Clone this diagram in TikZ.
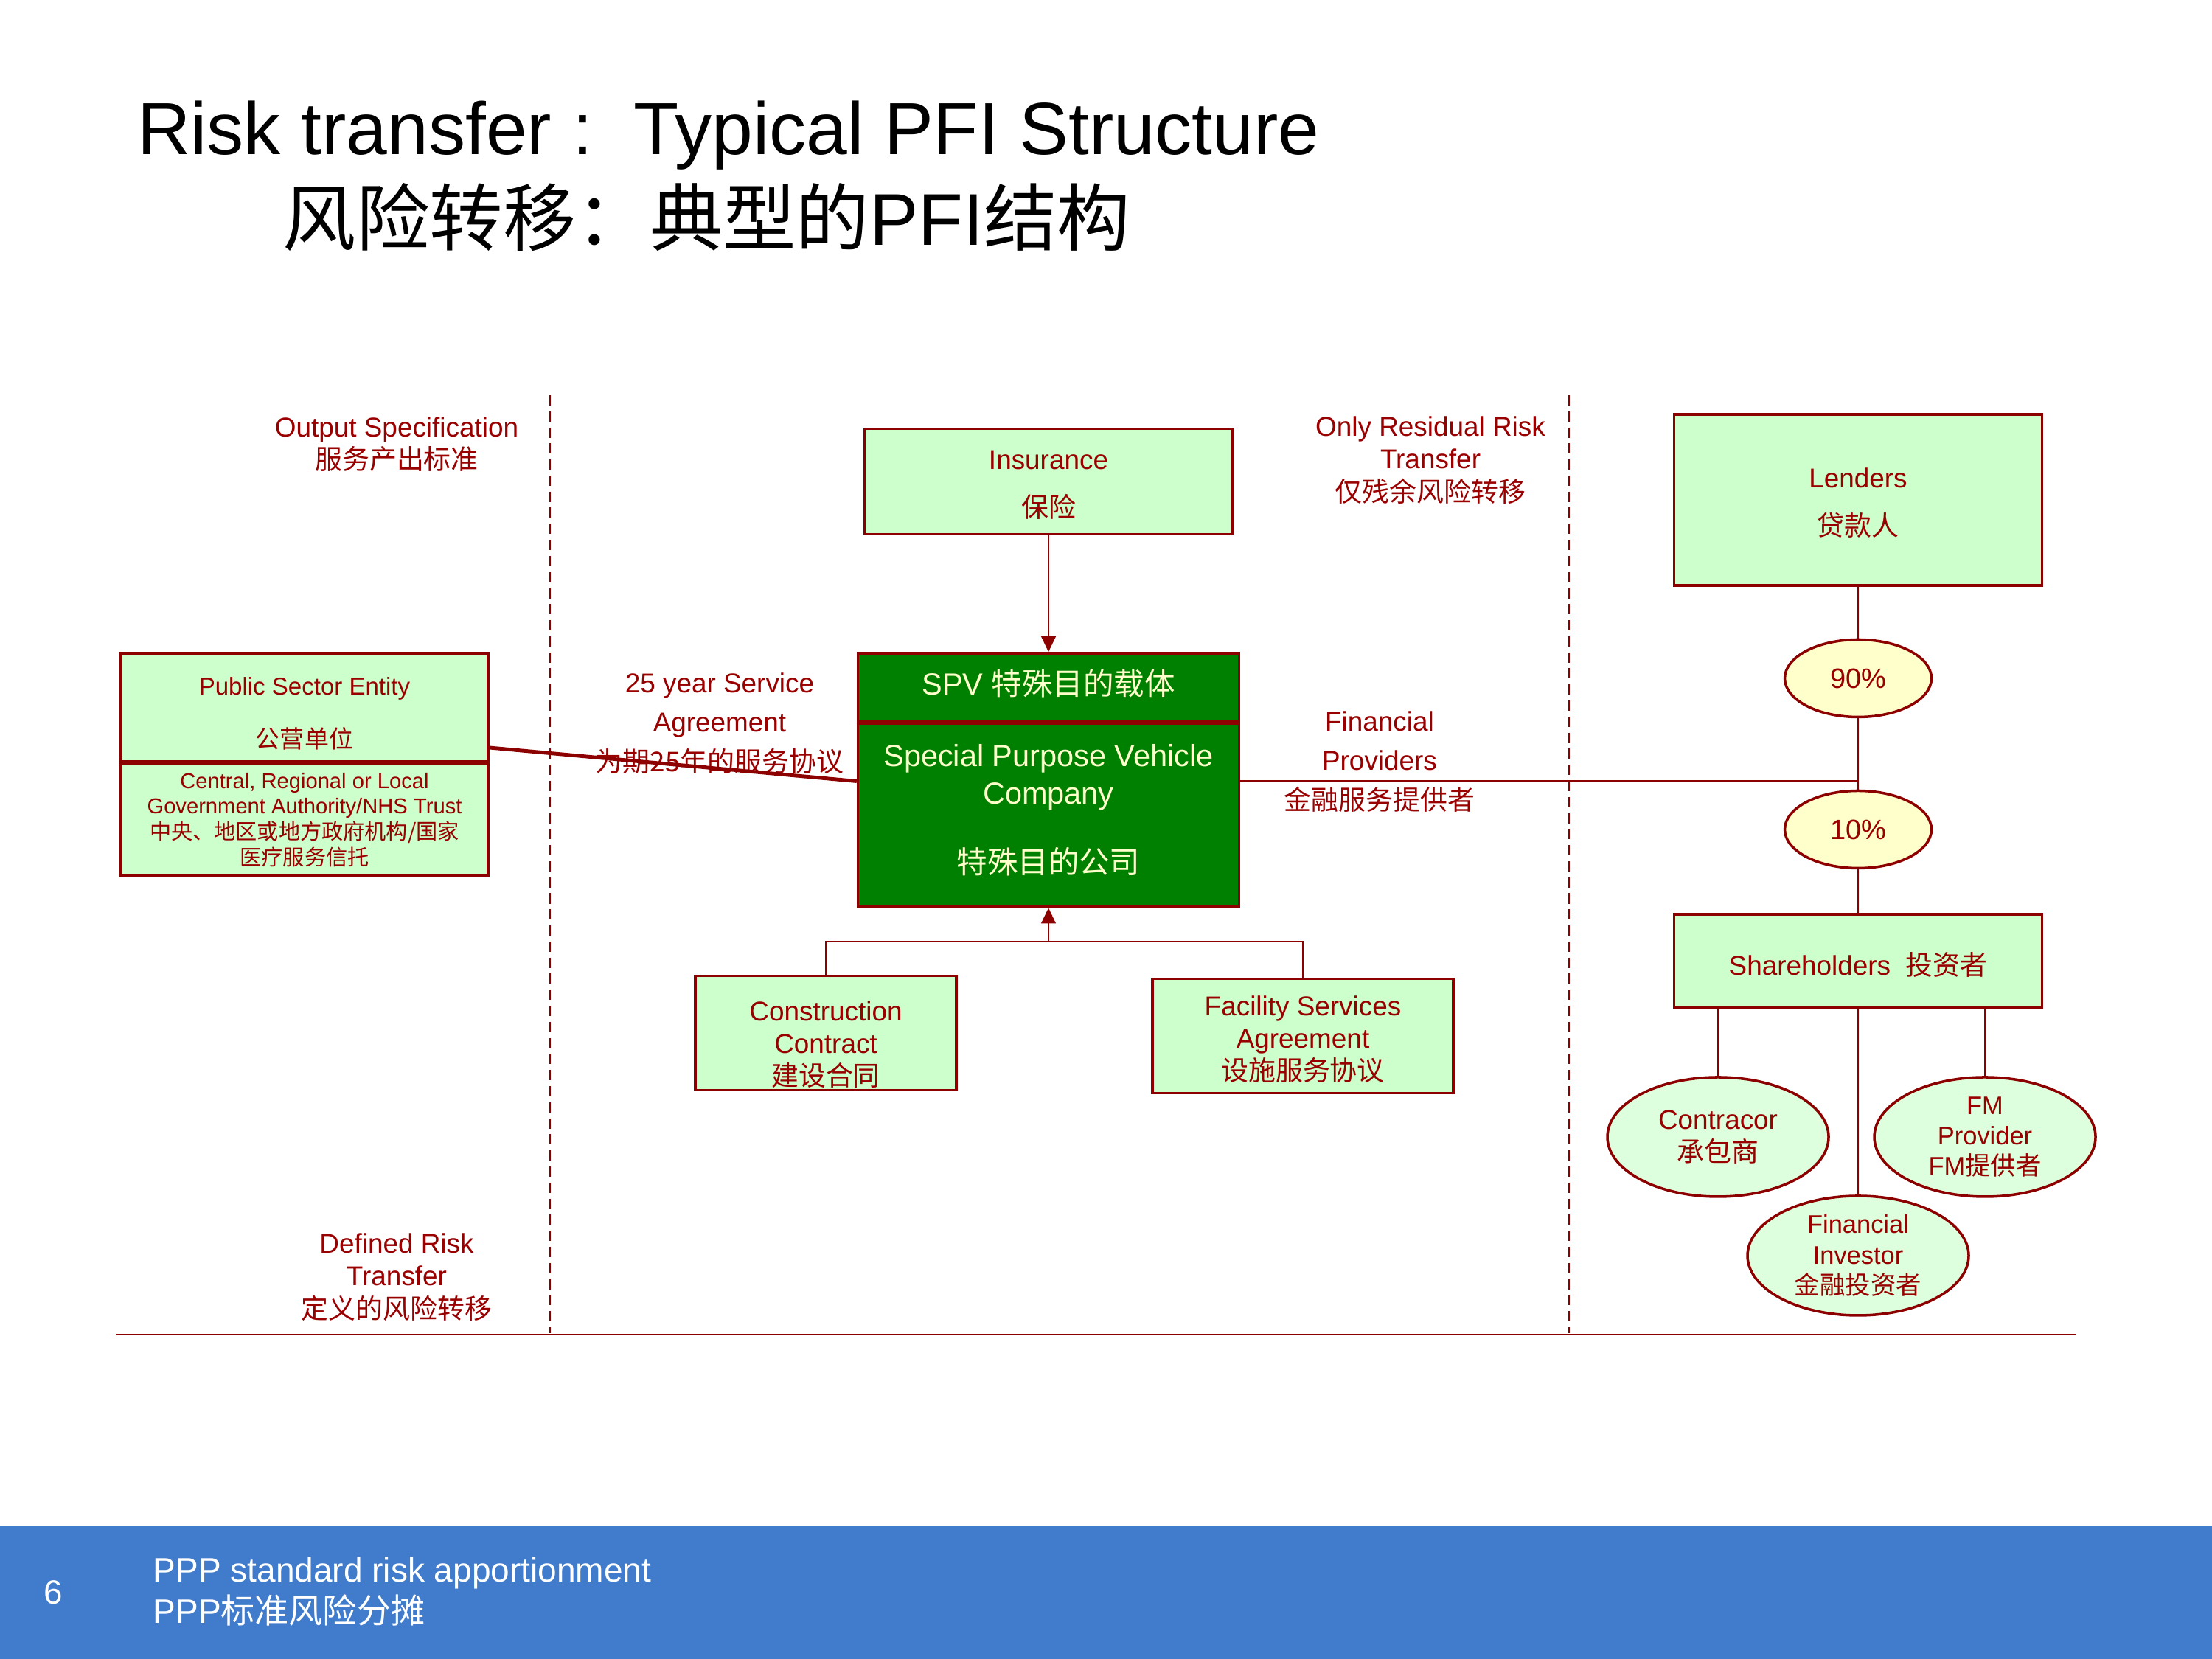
\documentclass[tikz,border=0pt]{standalone}
\usepackage{fontspec}
\setmainfont{Liberation Sans}
\newfontfamily\cjk{Noto Sans CJK SC}
\usepackage{xcolor}
\usetikzlibrary{positioning,arrows.meta,shapes.geometric,calc}
\definecolor{pfired}{RGB}{153,0,0}
\definecolor{pfiline}{RGB}{140,0,0}
\definecolor{pfigreen}{RGB}{204,255,204}
\definecolor{pfipale}{RGB}{221,255,221}
\definecolor{pfiyellow}{RGB}{255,255,204}
\definecolor{spvgreen}{RGB}{0,128,0}
\definecolor{footblue}{RGB}{64,124,203}
% moves the text inside a box without changing the box
\newcommand{\dropby}[2]{\raisebox{-#1}[\height][\depth]{#2}}

\begin{document}
\begin{tikzpicture}[
    greenbox/.style={draw=pfiline, line width=1pt, fill=pfigreen, rectangle, text=pfired, inner sep=0pt, font=\fontsize{10.5}{13}\selectfont},
    notetext/.style={text=pfired, align=center, inner sep=0pt, font=\fontsize{10.5}{12.6}\selectfont},
    pctoval/.style={draw=pfiline, line width=1pt, fill=pfiyellow, ellipse, minimum width=1.99cm, minimum height=1.05cm, inner sep=0pt, text=pfired, font=\fontsize{10.8}{13}\selectfont},
    partyoval/.style={draw=pfiline, line width=1pt, fill=pfipale, ellipse, minimum width=3cm, minimum height=1.62cm, inner sep=0pt, text=pfired, align=center, font=\fontsize{9.8}{11.7}\selectfont},
    riskline/.style={draw=pfiline, line width=0.8pt, dash pattern=on 4pt off 2.2pt},
    link/.style={draw=pfiline, line width=0.8pt},
    arrowlink/.style={link, -{Triangle[length=6pt,width=5.5pt]}}
]
    \useasboundingbox (0,0) rectangle (30,22.5);

    % Title
    \node[anchor=base west, inner sep=0pt, font=\fontsize{28.5}{34}\selectfont] (title) at (1.856,20.40) {Risk transfer :\ \ Typical PFI Structure};
    \node[anchor=base west, inner sep=0pt, font=\fontsize{28.3}{34}\selectfont] (titlecn) at (3.83,19.17) {{\cjk 风险转移：典型的}PFI{\cjk 结构}};

    % Footer
    \fill[footblue] (0,0) rectangle (30,1.80);
    \node[text=white, font=\fontsize{13}{15.8}\selectfont] (pagenum) at (0.727,0.90) {6};
    \node[text=white, anchor=west, align=left, inner sep=0pt, font=\fontsize{13.1}{15.8}\selectfont] (foottext) at (2.07,0.91) {PPP standard risk apportionment\\PPP{\cjk 标准风险分摊}};

    % Risk zones
    \draw[riskline] (7.46,17.14) -- (7.46,4.42);
    \draw[riskline] (21.28,17.14) -- (21.28,4.42);
    \draw[link] (1.57,4.40) -- (28.16,4.40);

    % Notes
    \node[notetext] (outspec) at (5.38,16.47) {Output Specification\\{\cjk 服务产出标准}};
    \node[notetext] (residual) at (19.40,16.26) {Only Residual Risk\\Transfer\\{\cjk 仅残余风险转移}};
    \node[notetext] (definedrisk) at (5.38,5.18) {Defined Risk\\Transfer\\{\cjk 定义的风险转移}};
    \node[notetext, font=\fontsize{10.5}{15.2}\selectfont] (service) at (9.76,12.69) {25 year Service\\Agreement\\{\cjk 为期25年的服务协议}};
    \node[notetext, font=\fontsize{10.5}{15.2}\selectfont] (finprov) at (18.71,12.17) {Financial\\Providers\\{\cjk 金融服务提供者}};

    % Insurance
    \node[greenbox, minimum width=4.99cm, minimum height=1.43cm] (insurance) at (14.22,15.97) {\dropby{1.9pt}{%
        \begin{tabular}{c}
        Insurance\\[5.5pt]
        {\cjk 保险}
        \end{tabular}}
    };

    % SPV
    \node[greenbox, fill=spvgreen, text=pfiyellow, minimum width=5.17cm, minimum height=0.92cm, font=\fontsize{11.8}{14.7}\selectfont] (spvtop) at (14.22,13.18) {\dropby{-1.6pt}{SPV {\cjk 特殊目的载体}}};
    \node[greenbox, fill=spvgreen, text=pfiyellow, minimum width=5.17cm, minimum height=2.48cm, font=\fontsize{11.8}{14.7}\selectfont, below=0pt of spvtop] (spvbot) {\dropby{-1.1pt}{%
        \begin{tabular}{c}
        Special Purpose Vehicle\\
        Company\\[12pt]
        {\cjk 特殊目的公司}
        \end{tabular}}
    };

    % Public sector
    \node[greenbox, minimum width=4.975cm, minimum height=1.47cm, font=\fontsize{9.4}{12}\selectfont] (pubtop) at (4.13,12.905) {\dropby{3pt}{%
        \begin{tabular}{c}
        Public Sector Entity\\[8.7pt]
        {\cjk 公营单位}
        \end{tabular}}
    };
    \node[greenbox, minimum width=4.975cm, minimum height=1.51cm, font=\fontsize{8.3}{9.6}\selectfont, below=0pt of pubtop] (pubbot) {\dropby{0.8pt}{%
        \begin{tabular}{c}
        Central, Regional or Local\\
        Government Authority/NHS Trust\\
        {\cjk 中央、地区或地方政府机构/国家}\\
        {\cjk 医疗服务信托}
        \end{tabular}}
    };

    % Contracts
    \node[greenbox, minimum width=3.54cm, minimum height=1.55cm, font=\fontsize{10.5}{12.5}\selectfont] (construction) at (11.20,8.49) {\dropby{5.4pt}{%
        \begin{tabular}{c}
        Construction\\
        Contract\\
        {\cjk 建设合同}
        \end{tabular}}
    };
    \node[greenbox, minimum width=4.08cm, minimum height=1.55cm, font=\fontsize{10.5}{12.5}\selectfont] (facility) at (17.67,8.45) {\dropby{2.2pt}{%
        \begin{tabular}{c}
        Facility Services\\
        Agreement\\
        {\cjk 设施服务协议}
        \end{tabular}}
    };

    % Finance side
    \node[greenbox, minimum width=4.99cm, minimum height=2.32cm] (lenders) at (25.20,15.72) {\dropby{1.9pt}{%
        \begin{tabular}{c}
        Lenders\\[5.5pt]
        {\cjk 贷款人}
        \end{tabular}}
    };
    \node[pctoval] (pct90) at (25.20,13.30) {90\%};
    \node[pctoval] (pct10) at (25.20,11.25) {10\%};
    \node[greenbox, minimum width=4.99cm, minimum height=1.26cm] (shareholders) at (25.20,9.47) {\dropby{1.6pt}{Shareholders\ \ {\cjk 投资者}}};

    % Shareholder parties
    \node[partyoval, font=\fontsize{10.5}{12.5}\selectfont] (contractor) at (23.30,7.08) {Contracor\\{\cjk 承包商}};
    \node[partyoval] (fmprov) at (26.92,7.08) {FM\\Provider\\FM{\cjk 提供者}};
    \node[partyoval] (fininv) at (25.20,5.47) {Financial\\Investor\\{\cjk 金融投资者}};

    % Connectors
    \draw[arrowlink] (insurance) -- (spvtop);
    \draw[link, line width=1.4pt] ([yshift=-0.545cm]pubtop.east) -- ([yshift=0.46cm]spvbot.west);
    \coordinate (spvport) at ([yshift=0.46cm]spvbot.east);
    \draw[link] (spvport) -- (spvport -| pct90.south);
    \draw[link] (lenders) -- (pct90);
    \draw[link] (pct90) -- (pct10);
    \draw[link] (pct10) -- (shareholders);
    \draw[link] (shareholders.south -| contractor.north) -- (contractor.north);
    \draw[link] (shareholders.south -| fmprov.north) -- (fmprov.north);
    \draw[link] (shareholders) -- (fininv);
    \coordinate (joint) at (spvbot.south |- 0,9.73);
    \draw[link] (construction.north) |- (joint);
    \draw[link] (facility.north) |- (joint);
    \draw[arrowlink] (joint) -- (spvbot.south);
\end{tikzpicture}
\end{document}
